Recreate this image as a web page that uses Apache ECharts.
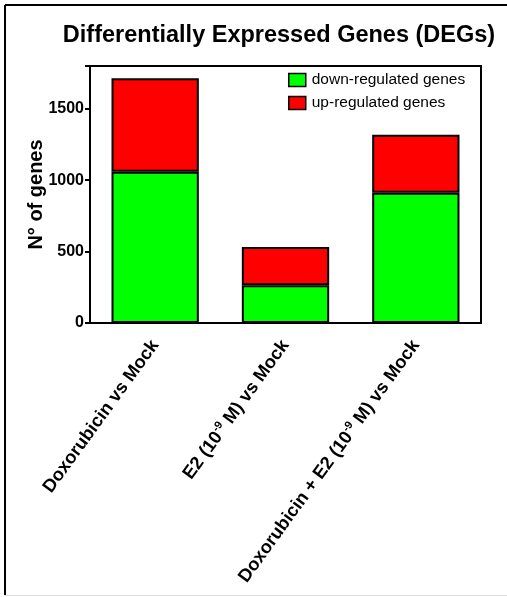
<!DOCTYPE html>
<html><head><meta charset="utf-8">
<script src="https://cdn.jsdelivr.net/npm/echarts@6/dist/echarts.min.js"></script>
<style>html,body{margin:0;padding:0;background:#fff}#c{width:507px;height:597px}</style>
</head><body><div id="c"></div>
<script>
const categories = ['Doxorubicin vs Mock', 'E2 (10{sup|-9} M) vs Mock', 'Doxorubicin + E2 (10{sup|-9} M) vs Mock'];
const downRegulated = [1060, 264, 912];
const upRegulated = [655, 268, 406];
const yTicks = [0, 500, 1000, 1500];
const seriesNames = ['down-regulated genes', 'up-regulated genes'];

const chart = echarts.init(document.getElementById('c'));
const font = '"Liberation Sans", Arial, sans-serif';
chart.setOption({
  animation: false,
  title: {
    text: 'Differentially Expressed Genes (DEGs)',
    left: 274, top: 19, textAlign: 'center',
    textStyle: { fontFamily: font, fontWeight: 'bold', fontSize: 23.5, color: '#000' }
  },
  legend: {
    left: 283, top: 67, orient: 'vertical', itemGap: 7,
    itemWidth: 17, itemHeight: 13, icon: 'rect',
    itemStyle: { borderColor: '#000', borderWidth: 1.5 },
    textStyle: { fontFamily: font, fontSize: 15.5, color: '#000', padding: [0, 0, 0, 1] },
    data: seriesNames
  },
  grid: { left: 90, top: 66, right: 26, bottom: 274, show: true, borderColor: '#000', borderWidth: 2, backgroundColor: 'transparent' },
  xAxis: {
    type: 'category', data: categories,
    axisLine: { lineStyle: { color: '#000', width: 2 } },
    axisTick: { alignWithLabel: true, length: 5, lineStyle: { color: '#000', width: 2 } },
    axisLabel: {
      rotate: 54, margin: 19, interval: 0,
      fontFamily: font, fontWeight: 'bold', fontSize: 18.3, color: '#000',
      rich: { sup: { fontFamily: font, fontWeight: 'bold', fontSize: 11, color: '#000', padding: [0, 0, 10, 0] } }
    }
  },
  yAxis: {
    type: 'value', min: 0, max: 1800, interval: 500,
    name: 'N° of genes', nameLocation: 'middle', nameGap: 44, nameMoveOverlap: false,
    nameTextStyle: { fontFamily: font, fontWeight: 'bold', fontSize: 20, color: '#000' },
    axisLine: { show: true, lineStyle: { color: '#000', width: 2 } },
    axisTick: { show: true, length: 5, lineStyle: { color: '#000', width: 2 } },
    splitLine: { show: false },
    axisLabel: {
      fontFamily: font, fontWeight: 'bold', fontSize: 16, color: '#000', margin: 6,
      formatter: v => yTicks.includes(v) ? String(v) : ''
    }
  },
  series: [
    { name: seriesNames[0], type: 'bar', stack: 's', data: downRegulated, barWidth: '67%',
      itemStyle: { color: '#00ff00', borderColor: '#000', borderWidth: 2 } },
    { name: seriesNames[1], type: 'bar', stack: 's', data: upRegulated, barWidth: '67%',
      itemStyle: { color: '#ff0000', borderColor: '#000', borderWidth: 2 } }
  ],
  graphic: [
    { type: 'line', shape: { x1: 5, y1: 5, x2: 507, y2: 5 }, style: { stroke: '#000', lineWidth: 2 } },
    { type: 'line', shape: { x1: 5, y1: 5, x2: 5, y2: 595 }, style: { stroke: '#000', lineWidth: 2 } },
    { type: 'line', shape: { x1: 5, y1: 595.5, x2: 507, y2: 595.5 }, style: { stroke: '#ddd', lineWidth: 1 } }
  ]
});
</script></body></html>
